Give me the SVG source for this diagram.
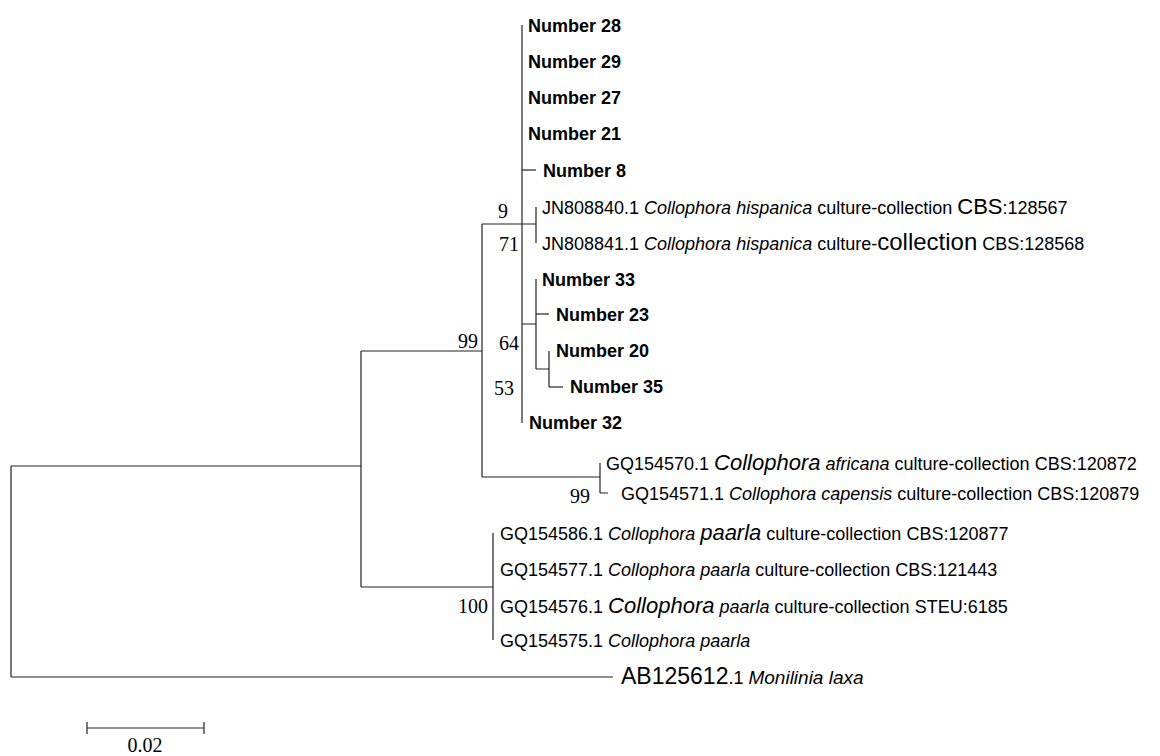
<svg xmlns="http://www.w3.org/2000/svg" width="1160" height="756" viewBox="0 0 1160 756">
<style>
.t{font-family:"Liberation Sans",Arial,sans-serif;font-size:18px;fill:#000}
.b{font-family:"Liberation Sans",Arial,sans-serif;font-size:18px;font-weight:bold;fill:#000}
.i{font-style:italic}
.big{font-size:22px}
.s{font-family:"Liberation Serif","Times New Roman",serif;font-size:20px;fill:#000}
.ln{fill:none;stroke:#222;stroke-width:1.2}
</style>
<rect width="1160" height="756" fill="#fff"/>
<g id="connectors" class="ln">
<path d="M522,25 V423"/>
<path d="M522,170 H536"/>
<path d="M482,224 H536"/>
<path d="M536,207 V243"/>
<path d="M522,324 H536 M536,279 V369"/>
<path d="M536,314 H549"/>
<path d="M536,369 H549 M549,351 V387"/>
<path d="M549,387 H563"/>
<path d="M482,224 V477"/>
<path d="M361,351 H482"/>
<path d="M482,477 H600 M600,463 V493 M600,493 H608"/>
<path d="M361,351 V587"/>
<path d="M361,587 H493 M493,533 V640"/>
<path d="M11,466 H361 M11,466 V677 M11,677 H613"/>
</g>
<g id="n28"><text class="b" x="528" y="32">Number 28</text></g>
<g id="n29"><text class="b" x="528" y="68">Number 29</text></g>
<g id="n27"><text class="b" x="528" y="104">Number 27</text></g>
<g id="n21"><text class="b" x="528" y="140">Number 21</text></g>
<g id="n8"><text class="b" x="543" y="176.5">Number 8</text></g>
<g id="jn40"><text class="t" x="542" y="213.5">JN808840.1 <tspan class="i">Collophora hispanica</tspan> culture-collection <tspan class="big">CBS</tspan>:128567</text></g>
<g id="jn41"><text class="t" x="542" y="249.5">JN808841.1 <tspan class="i">Collophora hispanica</tspan> culture-<tspan style="font-size:24px">collection</tspan> CBS:128568</text></g>
<g id="n33"><text class="b" x="542" y="285.5">Number 33</text></g>
<g id="n23"><text class="b" x="556" y="320.5">Number 23</text></g>
<g id="n20"><text class="b" x="556" y="357">Number 20</text></g>
<g id="n35"><text class="b" x="570" y="393">Number 35</text></g>
<g id="n32"><text class="b" x="529" y="429">Number 32</text></g>
<g id="gq70"><text class="t" x="606" y="469.5">GQ154570.1 <tspan class="i big">Collophora</tspan> <tspan class="i">africana</tspan> culture-collection CBS:120872</text></g>
<g id="gq71"><text class="t" x="621" y="499.5">GQ154571.1 <tspan class="i">Collophora capensis</tspan> culture-collection CBS:120879</text></g>
<g id="gq86"><text class="t" x="500" y="539.5">GQ154586.1 <tspan class="i">Collophora <tspan class="big">paarla</tspan></tspan> culture-collection CBS:120877</text></g>
<g id="gq77"><text class="t" x="500" y="575.5">GQ154577.1 <tspan class="i">Collophora paarla</tspan> culture-collection CBS:121443</text></g>
<g id="gq76"><text class="t" x="500" y="612.5">GQ154576.1 <tspan class="i big">Collophora</tspan> <tspan class="i">paarla</tspan> culture-collection STEU:6185</text></g>
<g id="gq75"><text class="t" x="500" y="646.5">GQ154575.1 <tspan class="i">Collophora paarla</tspan></text></g>
<g id="ab"><text class="t" x="621" y="684"><tspan style="font-size:23px">AB125612</tspan>.1 <tspan class="i" style="font-size:19px">Monilinia laxa</tspan></text></g>
<g id="bootstrap">
<text class="s" x="508" y="218" text-anchor="end">9</text>
<text class="s" x="519" y="251" text-anchor="end">71</text>
<text class="s" x="478" y="348" text-anchor="end">99</text>
<text class="s" x="519" y="350" text-anchor="end">64</text>
<text class="s" x="514" y="395" text-anchor="end">53</text>
<text class="s" x="590" y="503" text-anchor="end">99</text>
<text class="s" x="488" y="613" text-anchor="end">100</text>
</g>
<g id="scalebar">
<path class="ln" d="M87,728 H204 M87,722 V734 M204,722 V734"/>
<text class="s" x="145" y="752" text-anchor="middle">0.02</text>
</g>
</svg>
